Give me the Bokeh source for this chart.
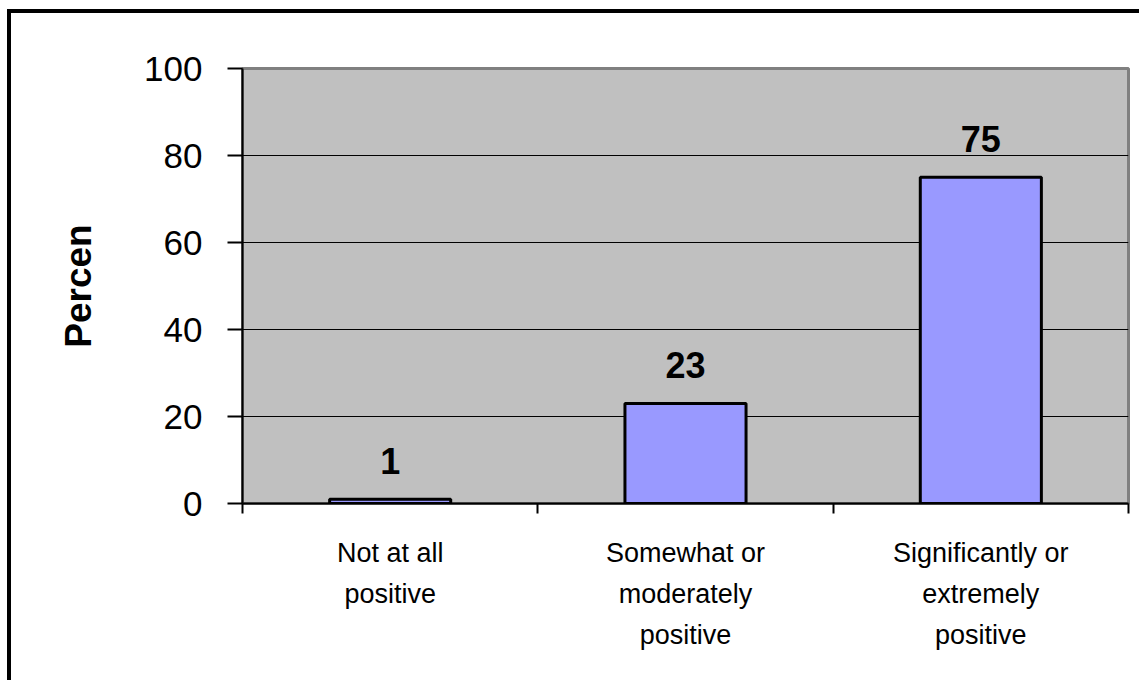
from bokeh.plotting import figure
from bokeh.models import FixedTicker
from bokeh.core.properties import value
from bokeh.embed import file_html
from bokeh.resources import INLINE

categories = ["Not at all positive", "Somewhat or moderately positive", "Significantly or extremely positive"]
tick_labels = ["Not at all\npositive", "Somewhat or\nmoderately\npositive", "Significantly or\nextremely\npositive"]
percent = [1, 23, 75]
y_ticks = [0, 20, 40, 60, 80, 100]
y_title = "Percen"

FONT = "Liberation Sans"
n = len(categories)
x_centers = [i + 0.5 for i in range(n)]
x_bounds = list(range(n + 1))

p = figure(width=1132, height=671, x_range=(0, n), y_range=(0, 100),
           output_backend="svg", toolbar_location=None,
           min_border_left=231, min_border_right=15, min_border_top=55, min_border_bottom=181)
p.styles = {"border-left": "4px solid black", "border-top": "4px solid black",
            "margin-left": "7px", "margin-top": "9px"}

p.background_fill_color = "#C0C0C0"
p.border_fill_color = "white"
p.outline_line_color = "#808080"
p.outline_line_width = 3

p.xgrid.visible = False
p.ygrid.ticker = FixedTicker(ticks=y_ticks)
p.ygrid.grid_line_color = "black"
p.ygrid.grid_line_width = 1

p.vbar(x=x_centers, top=percent, bottom=0, width=0.41,
       fill_color="#9999FF", line_color="black", line_width=3)

p.text(x=x_centers, y=percent, text=[str(v) for v in percent],
       text_align="center", text_baseline="alphabetic", y_offset=-38,
       text_font=value(FONT), text_font_style="bold", text_font_size="36px",
       text_color="black")

ya = p.yaxis[0]
ya.ticker = FixedTicker(ticks=y_ticks)
ya.axis_line_color = "black"
ya.axis_line_width = 2
ya.major_tick_in = 0
ya.major_tick_out = 15
ya.major_tick_line_width = 2
ya.major_tick_line_color = "black"
ya.minor_tick_line_color = None
ya.major_label_text_font = FONT
ya.major_label_text_font_size = "35px"
ya.major_label_text_color = "black"
ya.major_label_standoff = 25
ya.axis_label = y_title
ya.axis_label_text_font = FONT
ya.axis_label_text_font_style = "bold"
ya.axis_label_text_font_size = "37px"
ya.axis_label_text_color = "black"
ya.axis_label_standoff = 42

xa = p.xaxis[0]
xa.ticker = FixedTicker(ticks=x_centers, minor_ticks=x_bounds)
xa.major_label_overrides = {c: lab for c, lab in zip(x_centers, tick_labels)}
xa.axis_line_color = "black"
xa.axis_line_width = 2
xa.major_tick_line_color = None
xa.minor_tick_in = 0
xa.minor_tick_out = 10
xa.minor_tick_line_width = 2
xa.minor_tick_line_color = "black"
xa.major_label_text_font = FONT
xa.major_label_text_font_size = "27px"
xa.major_label_text_color = "black"
xa.major_label_text_line_height = 1.37
xa.major_label_standoff = 24

open("out.html", "w").write(file_html(p, INLINE))
